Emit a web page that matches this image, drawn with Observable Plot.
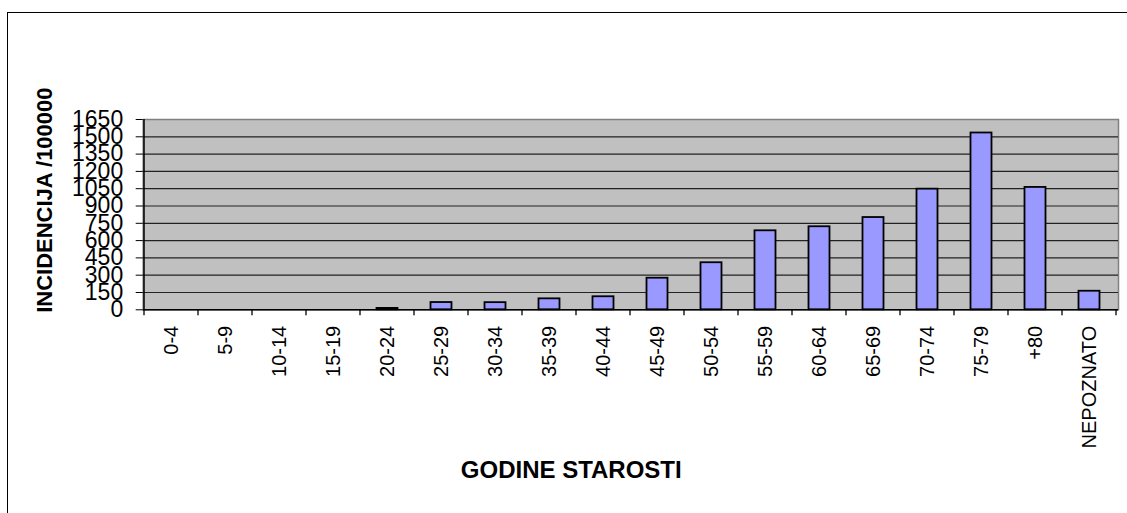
<!DOCTYPE html>
<html><head><meta charset="utf-8">
<script src="https://cdn.jsdelivr.net/npm/d3@7"></script>
<script src="https://cdn.jsdelivr.net/npm/@observablehq/plot@0.6"></script>
<style>
html,body{margin:0;padding:0;background:#fff;overflow:hidden;width:1127px;height:513px}
#wrap{position:relative;width:1127px;height:513px}
#chart svg{display:block}
#border{position:absolute;left:7px;top:12px;width:1200px;height:600px;border-left:1.5px solid #000;border-top:1.5px solid #000;pointer-events:none}
</style></head><body><div id="wrap"><div id="chart"></div><div id="border"></div></div>
<script>
const ageGroups = ["0-4","5-9","10-14","15-19","20-24","25-29","30-34","35-39","40-44","45-49","50-54","55-59","60-64","65-69","70-74","75-79","+80","NEPOZNATO"];
const incidence = [0,0,0,0,12,63,62,95,113,274,408,685,720,800,1046,1533,1061,161];
const yTicks = [0,150,300,450,600,750,900,1050,1200,1350,1500,1650];
const xTitle = "GODINE STAROSTI";
const yTitle = "INCIDENCIJA /100000";

const data = ageGroups.map((g, i) => ({group: g, value: incidence[i]}));

const plot = Plot.plot({
  width: 1127, height: 513,
  marginLeft: 142.7, marginRight: 9, marginTop: 119, marginBottom: 203.7,
  style: {fontFamily: "'Liberation Sans', Arial, sans-serif", background: "transparent", color: "#000"},
  x: {type: "band", domain: ageGroups, padding: 0, axis: null},
  y: {domain: [0, 1650]},
  marks: [
    Plot.frame({fill: "#c0c0c0", stroke: "#808080", strokeWidth: 1.5}),
    Plot.gridY(yTicks.filter(t => t > 0 && t < 1650), {stroke: "#222", strokeOpacity: 1, strokeWidth: 1.2}),
    Plot.barY(data, {x: "group", y: "value", fill: "#9999ff", stroke: "#000", strokeWidth: 1.8, insetLeft: 16.5, insetRight: 16.5}),
    Plot.ruleY([0], {stroke: "#000", strokeWidth: 1.5}),
    Plot.axisY(yTicks, {tickSize: 7, tickPadding: 13, fontSize: 23, label: null, tickFormat: d => String(d)}),
    Plot.text(ageGroups, {x: d => d, text: d => d, frameAnchor: "bottom", rotate: -90, textAnchor: "end", lineAnchor: "middle", dy: 16, fontSize: 20}),
    Plot.text([yTitle], {text: d => d, frameAnchor: "left", textAnchor: "middle", lineAnchor: "middle", rotate: -90, dx: -98.5, dy: -14.5, fontSize: 22, fontWeight: "bold"}),
    Plot.text([xTitle], {text: d => d, frameAnchor: "bottom", textAnchor: "middle", lineAnchor: "middle", dx: -59.6, dy: 160.2, fontSize: 24, fontWeight: "bold"})
  ]
});

document.getElementById("chart").appendChild(plot);

const xs = plot.scale("x");
const ys = plot.scale("y");
const svg = d3.select(plot);
const y0 = ys.apply(0);
const yTop = ys.apply(1650);
const bounds = ageGroups.map(g => xs.apply(g)).concat([xs.apply(ageGroups[ageGroups.length - 1]) + xs.bandwidth]);
svg.append("g").selectAll("line").data(bounds).join("line")
  .attr("x1", d => d).attr("x2", d => d)
  .attr("y1", y0).attr("y2", y0 + 6)
  .attr("stroke", "#000").attr("stroke-width", 1.3);
svg.append("line")
  .attr("x1", bounds[0]).attr("x2", bounds[0])
  .attr("y1", yTop).attr("y2", y0 + 0.75)
  .attr("stroke", "#000").attr("stroke-width", 1.5);
</script></body></html>
